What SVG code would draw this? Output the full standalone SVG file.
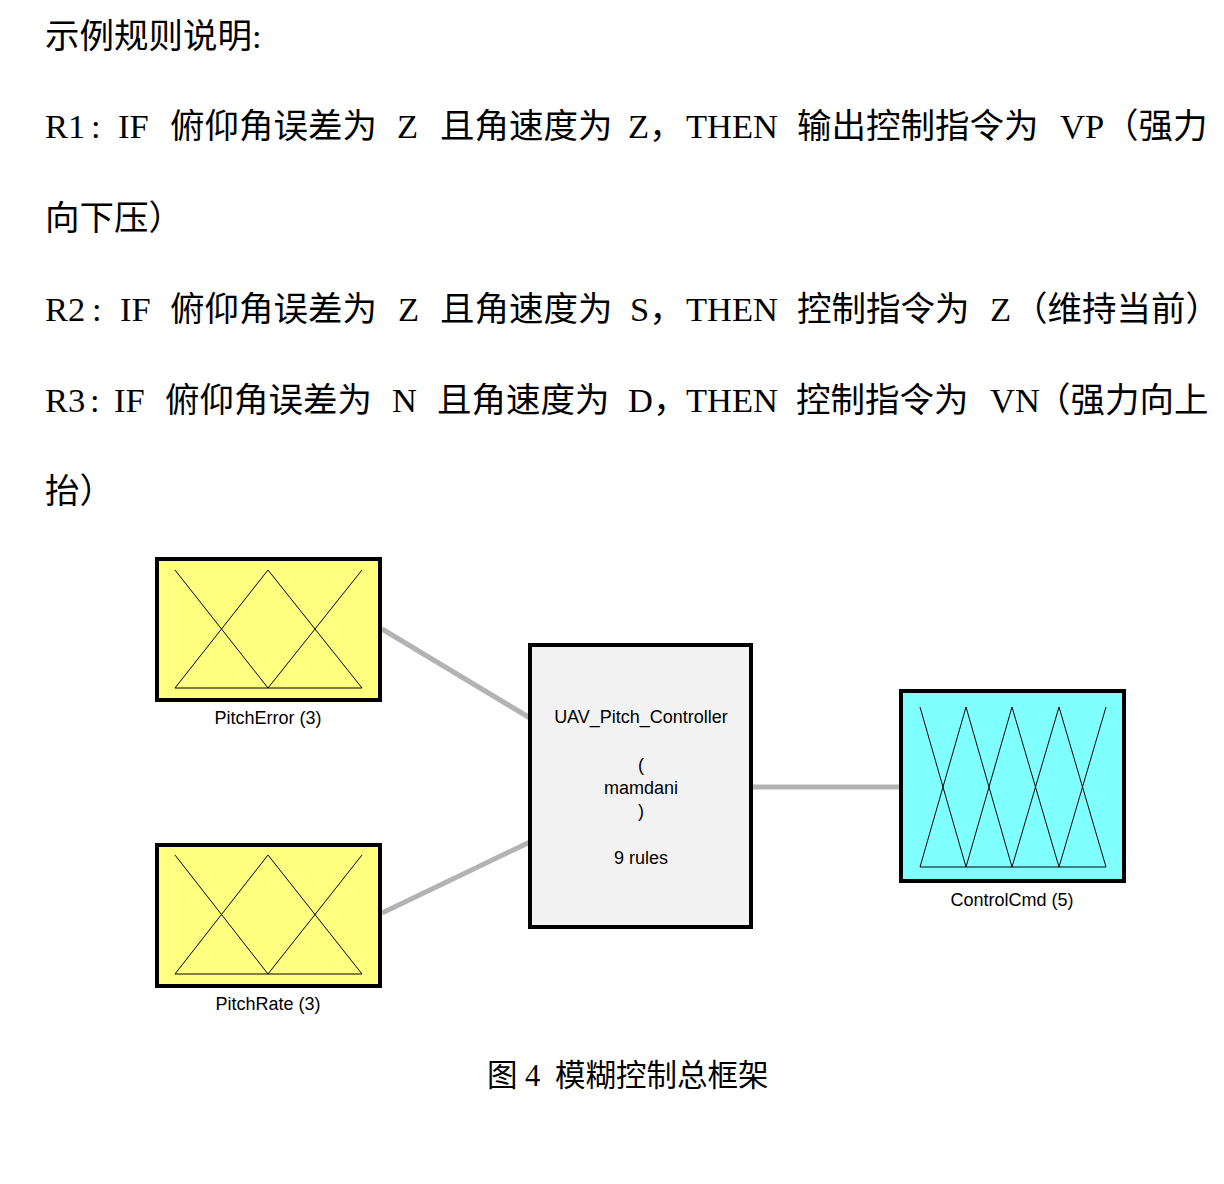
<svg xmlns="http://www.w3.org/2000/svg" width="1224" height="1184" viewBox="0 0 1224 1184">
<style>
.t{font-family:"Liberation Serif","Noto Sans CJK SC",serif;font-size:34.5px;fill:#000}
.c{font-family:"Liberation Serif","Noto Sans CJK SC",serif;font-size:30.5px;fill:#000}
.lbl{font-family:"Liberation Sans",Arial,sans-serif;font-size:18px;fill:#000;text-anchor:middle}
.box{stroke:#000;stroke-width:4}
.mf{stroke:#000;stroke-width:1;fill:none}
.conn{stroke:#B3B3B3;stroke-width:5;fill:none}
</style>
<rect width="1224" height="1184" fill="#fff"/>
<g id="text">
<text class="t" x="45" y="48">示例规则说明:</text>
<text class="t" x="45" y="138">R1</text>
<text class="t" x="91" y="138">:</text>
<text class="t" x="118" y="138">IF</text>
<text class="t" x="170" y="138">俯仰角误差为</text>
<text class="t" x="397" y="138">Z</text>
<text class="t" x="440" y="138">且角速度为</text>
<text class="t" x="628" y="138">Z，</text>
<text class="t" x="686" y="138">THEN</text>
<text class="t" x="797" y="138">输出控制指令为</text>
<text class="t" x="1060" y="138">VP</text>
<text class="t" x="1104" y="138">（强力</text>
<text class="t" x="45" y="230">向下压）</text>
<text class="t" x="45" y="321">R2</text>
<text class="t" x="92" y="321">:</text>
<text class="t" x="120" y="321">IF</text>
<text class="t" x="170" y="321">俯仰角误差为</text>
<text class="t" x="398" y="321">Z</text>
<text class="t" x="440" y="321">且角速度为</text>
<text class="t" x="630" y="321">S，</text>
<text class="t" x="686" y="321">THEN</text>
<text class="t" x="797" y="321">控制指令为</text>
<text class="t" x="990" y="321">Z</text>
<text class="t" x="1013" y="321">（维持当前）</text>
<text class="t" x="45" y="412">R3</text>
<text class="t" x="90" y="412">:</text>
<text class="t" x="114" y="412">IF</text>
<text class="t" x="165" y="412">俯仰角误差为</text>
<text class="t" x="392" y="412">N</text>
<text class="t" x="437" y="412">且角速度为</text>
<text class="t" x="628" y="412">D，</text>
<text class="t" x="686" y="412">THEN</text>
<text class="t" x="796" y="412">控制指令为</text>
<text class="t" x="990" y="412">VN</text>
<text class="t" x="1036" y="412">（强力向上</text>
<text class="t" x="45" y="503">抬）</text>
</g>
<g id="connectors">
<line class="conn" x1="382" y1="629" x2="530" y2="718"/>
<line class="conn" x1="382" y1="913" x2="530" y2="842"/>
<line class="conn" x1="751" y1="787" x2="901" y2="787"/>
</g>
<g id="PitchError">
<rect class="box" x="157" y="559" width="223" height="141" fill="#FFFF80"/>
<path class="mf" d="M175 570L268 688M175 688L268 570L362 688M268 688L362 570M175 688H362"/>
<text class="lbl" x="268" y="724">PitchError (3)</text>
</g>
<g id="PitchRate">
<rect class="box" x="157" y="845" width="223" height="141" fill="#FFFF80"/>
<path class="mf" d="M175 855L268 974M175 974L268 855L362 974M268 974L362 855M175 974H362"/>
<text class="lbl" x="268" y="1010">PitchRate (3)</text>
</g>
<g id="Controller">
<rect class="box" x="530" y="645" width="221" height="282" fill="#F2F2F2"/>
<text class="lbl" x="641" y="723">UAV_Pitch_Controller</text>
<text class="lbl" x="641" y="771">(</text>
<text class="lbl" x="641" y="794">mamdani</text>
<text class="lbl" x="641" y="817">)</text>
<text class="lbl" x="641" y="864">9 rules</text>
</g>
<g id="ControlCmd">
<rect class="box" x="901" y="691" width="223" height="190" fill="#80FFFF"/>
<path class="mf" d="M920 707L966 867M920 867L966 707L1012 867M966 867L1012 707L1059 867M1012 867L1059 707L1106 867M1059 867L1106 707M920 867H1106"/>
<text class="lbl" x="1012" y="906">ControlCmd (5)</text>
</g>
<g id="caption">
<text class="c" x="487" y="1086">图</text>
<text class="c" x="525" y="1086">4</text>
<text class="c" x="555" y="1086">模糊控制总框架</text>
</g>
</svg>
